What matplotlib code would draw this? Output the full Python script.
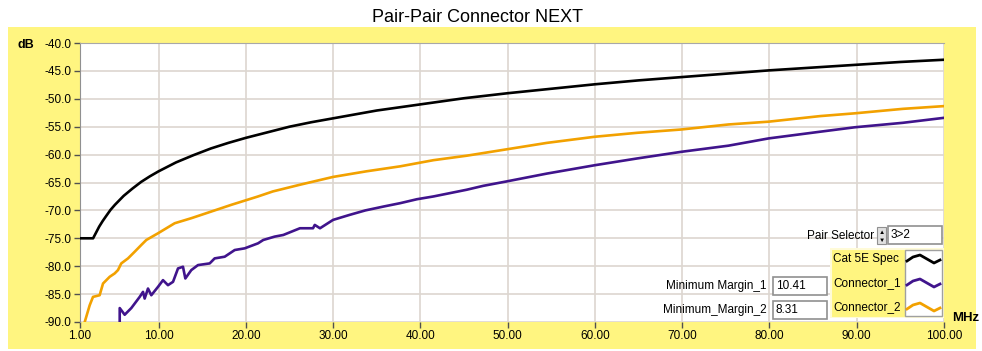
import numpy as np
import matplotlib
matplotlib.use("Agg")
import matplotlib.pyplot as plt
from matplotlib.patches import Rectangle

plt.rcParams['font.family'] = ['Liberation Sans', 'DejaVu Sans']

# frequency sweep (MHz) and NEXT levels (dB)
spec_freq = [1, 2.5, 2.8, 3.2, 3.6, 4, 4.5, 5, 5.5, 6, 7, 8, 9, 10, 12, 14, 16, 18,
             20, 22.5, 25, 27.5, 30, 35, 40, 45, 50, 55, 60, 65, 70, 75, 80, 85, 90,
             95, 100]
spec_db = [-75.0, -75.0, -74.1, -72.9, -71.9, -71.0, -69.9, -69.0, -68.2, -67.4,
           -66.1, -64.9, -63.9, -63.0, -61.4, -60.1, -58.9, -57.9, -57.0, -56.0,
           -55.0, -54.2, -53.5, -52.1, -51.0, -49.9, -49.0, -48.2, -47.4, -46.7,
           -46.1, -45.5, -44.9, -44.4, -43.9, -43.4, -43.0]

conn1_freq = [5.55, 5.55, 6.12, 6.88, 7.84, 8.22, 8.41, 8.79, 9.17, 9.94, 10.51,
              11.08, 11.66, 12.23, 12.80, 13.07, 13.75, 14.52, 15.86, 16.43, 17.58,
              18.73, 19.87, 21.4, 22.0, 23.3, 24.3, 26.2, 27.7, 27.9, 28.5, 30.0,
              31.9, 33.7, 35.8, 37.7, 39.6, 41.5, 43.4, 45.3, 47.2, 49.9, 54.5,
              60.0, 64.8, 69.9, 75.3, 79.9, 85.8, 89.8, 95.3, 100]
conn1_db = [-90.0, -87.5, -88.7, -87.5, -85.5, -84.6, -85.8, -84.0, -85.2, -83.7,
            -82.5, -83.4, -82.8, -80.4, -80.1, -82.2, -80.7, -79.8, -79.5, -78.6,
            -78.3, -77.1, -76.8, -75.9, -75.3, -74.7, -74.4, -73.2, -73.2, -72.6,
            -73.2, -71.7, -70.8, -70.0, -69.3, -68.7, -68.0, -67.5, -66.9, -66.3,
            -65.6, -64.8, -63.4, -61.9, -60.7, -59.5, -58.4, -57.1, -55.9, -55.1,
            -54.3, -53.41]

conn2_freq = [1.54, 2.11, 2.49, 3.25, 3.64, 4.40, 4.97, 5.35, 5.73, 6.50, 7.27,
              8.02, 8.60, 9.94, 11.85, 13.75, 16.05, 18.34, 21.4, 23.1, 26.2, 30.0,
              33.8, 37.7, 41.5, 45.3, 50.1, 54.5, 60.0, 64.8, 69.9, 75.3, 79.9,
              85.8, 89.8, 95.3, 100]
conn2_db = [-90.0, -87.0, -85.5, -85.2, -83.1, -81.9, -81.3, -80.7, -79.5, -78.6,
            -77.4, -76.2, -75.3, -74.1, -72.3, -71.4, -70.2, -69.0, -67.5, -66.6,
            -65.4, -64.0, -63.0, -62.1, -61.0, -60.2, -59.0, -57.9, -56.8, -56.1,
            -55.5, -54.6, -54.1, -53.1, -52.6, -51.8, -51.31]

x_ticks = [1, 10, 20, 30, 40, 50, 60, 70, 80, 90, 100]
y_ticks = [-40, -45, -50, -55, -60, -65, -70, -75, -80, -85, -90]
series_names = ["Cat 5E Spec", "Connector_1", "Connector_2"]
series_colors = ["#000000", "#40148c", "#f2a100"]
margin_labels = ["Minimum Margin_1", "Minimum_Margin_2"]
margin_values = ["10.41", "8.31"]

W, H = 982, 351
YELLOW = "#fff580"
fig = plt.figure(figsize=(W / 100, H / 100), dpi=100)
fig.patch.set_facecolor("white")


def px(x0, y0, w, h):
    # pixel box (top-left origin) -> figure fraction rect
    return [x0 / W, 1 - (y0 + h) / H, w / W, h / H]


def fx(x):
    return x / W


def fy(y):
    return 1 - y / H


fig.patches.append(Rectangle((fx(8), fy(349)), (976 - 8) / W, (349 - 27) / H,
                             transform=fig.transFigure, facecolor=YELLOW,
                             edgecolor="none", zorder=-10))

ax = fig.add_axes(px(80, 43, 864, 279))
ax.set_facecolor("white")
ax.plot(spec_freq, spec_db, color=series_colors[0], lw=1.9, zorder=3)
ax.plot(conn1_freq, conn1_db, color=series_colors[1], lw=1.9, zorder=3)
ax.plot(conn2_freq, conn2_db, color=series_colors[2], lw=1.9, zorder=3)

ax.set_xlim(1, 100)
ax.set_ylim(-90, -40)
ax.set_xticks(x_ticks)
ax.set_xticklabels(["%.2f" % v for v in x_ticks])
ax.set_yticks(y_ticks)
ax.set_yticklabels(["%.1f" % v for v in y_ticks])
ax.grid(True, color="#ddd6d0", lw=1.2, zorder=1)
ax.tick_params(axis="both", labelsize=8.5, length=4, width=1, color="#505050", pad=2)
for side in ["right", "bottom"]:
    ax.spines[side].set_visible(False)
ax.spines["top"].set_color("#a8a8a8")
ax.spines["left"].set_color("#909090")

fig.text(fx(477), fy(17), "Pair-Pair Connector NEXT", ha="center", va="center", fontsize=13)
fig.text(fx(17), fy(45), "dB", ha="left", va="center", fontsize=9, fontweight="bold")
fig.text(fx(952), fy(318), "MHz", ha="left", va="center", fontsize=9.5, fontweight="bold")

# legend panel
leg = fig.add_axes(px(830, 248, 114, 70))
leg.set_xlim(0, 114)
leg.set_ylim(70, 0)
leg.axis("off")
leg.add_patch(Rectangle((0.5, 0.5), 113, 69, facecolor=YELLOW, edgecolor="#fffbd8", lw=1.5))
leg.add_patch(Rectangle((75, 2), 37, 66, facecolor="white", edgecolor="#a0a0a0", lw=1))
wave_x = [77, 83, 90, 97, 104, 110]
wave_y = [2, -2, -4, 0, 4, 1]
for i, (name, col) in enumerate(zip(series_names, series_colors)):
    yc = 11 + i * 24
    leg.text(3, yc, name, ha="left", va="center", fontsize=8.5)
    leg.plot(wave_x, [yc + v for v in wave_y], color=col, lw=2, solid_joinstyle="round")

# minimum margin readouts
for i, (lab, val) in enumerate(zip(margin_labels, margin_values)):
    yc = 286 + i * 24
    fig.text(fx(767), fy(yc), lab, ha="right", va="center", fontsize=8.5)
    fig.patches.append(Rectangle((fx(773), fy(yc + 9)), 54 / W, 18 / H,
                                 transform=fig.transFigure, facecolor="white",
                                 edgecolor="#909090", lw=1.2, zorder=2))
    fig.text(fx(776), fy(yc), val, ha="left", va="center", fontsize=8.5, zorder=3)

# pair selector control
fig.text(fx(874), fy(236), "Pair Selector", ha="right", va="center", fontsize=8.5)
fig.patches.append(Rectangle((fx(877), fy(244)), 9 / W, 17 / H, transform=fig.transFigure,
                             facecolor="#e0e0e0", edgecolor="#909090", lw=0.8, zorder=2))
fig.text(fx(881.5), fy(232), "\u25b2", ha="center", va="center", fontsize=4.5, zorder=3)
fig.text(fx(881.5), fy(240), "\u25bc", ha="center", va="center", fontsize=4.5, zorder=3)
fig.patches.append(Rectangle((fx(888), fy(244)), 54 / W, 18 / H, transform=fig.transFigure,
                             facecolor="white", edgecolor="#909090", lw=1.2, zorder=2))
fig.text(fx(891), fy(235), "3>2", ha="left", va="center", fontsize=8.5, zorder=3)

fig.savefig("out.png", dpi=100)
